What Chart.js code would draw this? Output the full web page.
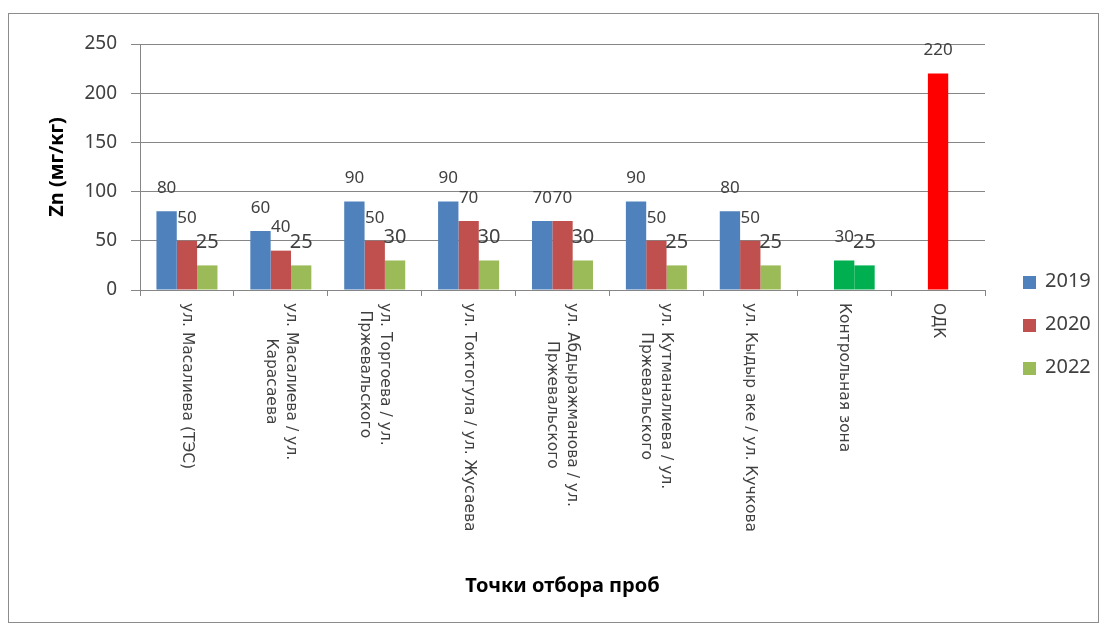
<!DOCTYPE html>
<html>
<head>
<meta charset="utf-8">
<script src="https://cdn.jsdelivr.net/npm/chart.js@4.4.0/dist/chart.umd.min.js"></script>
<style>
  html, body { margin: 0; padding: 0; background: #fff; }
</style>
</head>
<body>
<canvas id="chart" width="1105" height="628"></canvas>
<script>
// точки отбора проб (каждая подпись — массив строк)
const categories = [
    ['ул. Масалиева (ТЭС)'],
    ['ул. Масалиева / ул.', 'Карасаева'],
    ['ул. Торгоева / ул.', 'Пржевальского'],
    ['ул. Токтогула / ул. Жусаева'],
    ['ул. Абдыражманова / ул.', 'Пржевальского'],
    ['ул. Кутманалиева / ул.', 'Пржевальского'],
    ['ул. Кыдыр аке / ул. Кучкова'],
    ['Контрольная зона'],
    ['ОДК']
];
const values2019 = [80, 60, 90, 90, 70, 90, 80, null, null];
const values2020 = [50, 40, 50, 70, 70, 50, 50, 30, 220];
const values2022 = [25, 25, 30, 30, 30, 25, 25, 25, null];
const yTicks = [0, 50, 100, 150, 200, 250];

const BLUE = '#4F81BD', RED = '#C0504D', GREEN = '#9BBB59';
const ZONE_GREEN = '#00B050', LIMIT_RED = '#FF0000';
const TEXT = '#404040';
const GRID = '#868686';

// контрольная зона и ОДК выделены своими цветами
const colors2020 = values2020.map((v, i) => i === 7 ? ZONE_GREEN : (i === 8 ? LIMIT_RED : RED));
const colors2022 = values2022.map((v, i) => i === 7 ? ZONE_GREEN : GREEN);

const frame = {
    id: 'frame',
    beforeDraw(chart) {
        const ctx = chart.ctx;
        ctx.save();
        ctx.fillStyle = '#fff';
        ctx.fillRect(0, 0, chart.width, chart.height);
        ctx.strokeStyle = '#8c8c8c';
        ctx.lineWidth = 1;
        ctx.strokeRect(8.5, 13.5, 1090, 609);
        ctx.restore();
    }
};

// значения над столбиками
const valueLabels = {
    id: 'valueLabels',
    afterDatasetsDraw(chart) {
        const ctx = chart.ctx;
        ctx.save();
        ctx.fillStyle = TEXT;
        ctx.textAlign = 'center';
        ctx.textBaseline = 'middle';
        chart.data.datasets.forEach((ds, di) => {
            const meta = chart.getDatasetMeta(di);
            ctx.font = ds.labelSize + 'px "Noto Sans"';
            meta.data.forEach((bar, i) => {
                const v = ds.data[i];
                if (v === null) return;
                ctx.fillText(String(v), bar.x, bar.y - 23);
            });
        });
        ctx.restore();
    }
};

// вертикальные подписи категорий (текст сверху вниз)
const categoryLabels = {
    id: 'categoryLabels',
    afterDraw(chart) {
        const ctx = chart.ctx;
        const xs = chart.scales.x;
        const top = chart.chartArea.bottom + 13;
        const lh = 20;
        ctx.save();
        ctx.font = '15.5px "DejaVu Sans"';
        ctx.fillStyle = TEXT;
        ctx.textAlign = 'center';
        ctx.textBaseline = 'middle';
        chart.data.labels.forEach((lines, i) => {
            const x = xs.getPixelForValue(i);
            const maxW = Math.max(...lines.map(l => ctx.measureText(l).width));
            ctx.save();
            ctx.translate(x, top);
            ctx.rotate(Math.PI / 2);
            lines.forEach((line, j) => {
                ctx.fillText(line, maxW / 2, (j - (lines.length - 1) / 2) * lh);
            });
            ctx.restore();
        });
        ctx.restore();
    }
};

const legendBox = {
    id: 'legendBox',
    afterDraw(chart) {
        const ctx = chart.ctx;
        const rows = [281, 324, 367];
        ctx.save();
        ctx.font = '20px "Noto Sans"';
        ctx.textBaseline = 'middle';
        chart.data.datasets.forEach((ds, i) => {
            const y = rows[i];
            ctx.fillStyle = ds.legendColor;
            ctx.fillRect(1023, y - 5, 13, 13);
            ctx.fillStyle = TEXT;
            ctx.fillText(ds.label, 1045, y);
        });
        ctx.restore();
    }
};

new Chart(document.getElementById('chart').getContext('2d'), {
    type: 'bar',
    data: {
        labels: categories,
        datasets: [
            { label: '2019', data: values2019, backgroundColor: BLUE, legendColor: BLUE, labelSize: 17 },
            { label: '2020', data: values2020, backgroundColor: colors2020, legendColor: RED, labelSize: 17 },
            { label: '2022', data: values2022, backgroundColor: colors2022, legendColor: GREEN, labelSize: 20 }
        ]
    },
    options: {
        responsive: false,
        animation: false,
        devicePixelRatio: 1,
        layout: { padding: { left: 45, top: 44, right: 120, bottom: 30 } },
        datasets: { bar: { categoryPercentage: 0.65, barPercentage: 1.0 } },
        plugins: { legend: { display: false }, tooltip: { enabled: false } },
        scales: {
            x: {
                grid: { display: true, drawOnChartArea: false, drawTicks: true, tickLength: 6, color: GRID, offset: true },
                border: { color: GRID },
                ticks: { display: false },
                title: {
                    display: true, text: 'Точки отбора проб', color: '#000', padding: 0,
                    font: { family: 'Noto Sans', size: 20, weight: 'bold' }
                },
                afterFit(scale) { scale.height = 628 - 290 - 30; }
            },
            y: {
                min: 0,
                max: 250,
                afterBuildTicks(scale) { scale.ticks = yTicks.map(v => ({ value: v })); },
                ticks: { color: TEXT, padding: 14, font: { family: 'Noto Sans', size: 19 } },
                grid: { color: GRID, tickLength: 9 },
                border: { color: GRID },
                title: {
                    display: true, text: 'Zn (мг/кг)', color: '#000', padding: 0,
                    font: { family: 'Noto Sans', size: 20, weight: 'bold' }
                },
                afterFit(scale) { scale.width = 140 - 45; }
            }
        }
    },
    plugins: [frame, valueLabels, categoryLabels, legendBox]
});
</script>
</body>
</html>
